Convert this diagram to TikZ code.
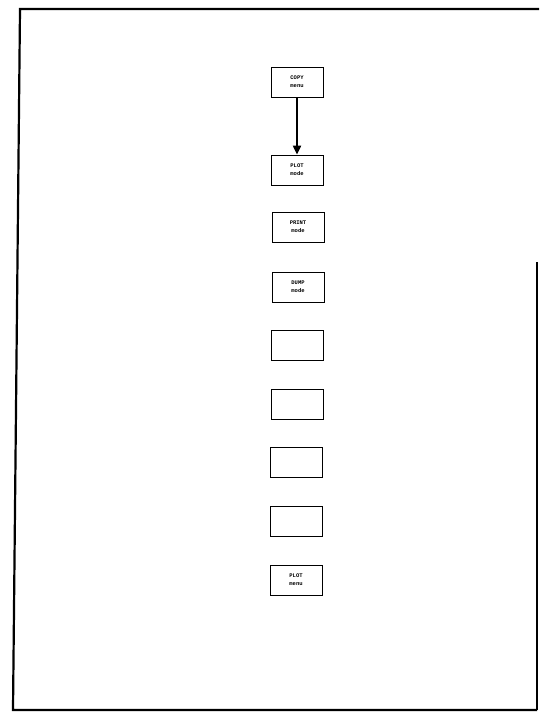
\documentclass[tikz,border=0pt]{standalone}
\usepackage{fontspec}
\setmonofont{Liberation Mono}
\usetikzlibrary{arrows.meta}

\tikzset{
  keybox/.style={draw, line width=0.8pt, minimum width=52pt, minimum height=30pt,
    inner sep=0pt, align=center, font=\ttfamily\bfseries\fontsize{5.5}{8}\selectfont},
}

\begin{document}
\begin{tikzpicture}[x=1pt, y=-1pt, line width=0.9pt]
\useasboundingbox (0,0) rectangle (539,713);

% page frame
\draw[line width=2.2pt] (539,9) -- (20,9) -- (13,710) -- (537,710);
\draw[line width=1.2pt] (537,710) -- (537,262);

% softkey column
\node[keybox] (bCopy)  at (297, 82) {COPY\\menu};
\node[keybox] (bPlot)  at (297,170) {PLOT\\mode};
\node[keybox] (bPrint) at (298,227) {PRINT\\mode};
\node[keybox] (bDump)  at (298,287) {DUMP\\mode};
\node[keybox] (bE1)    at (297,345) {};
\node[keybox] (bE2)    at (297,404) {};
\node[keybox] (bE3)    at (296,462) {};
\node[keybox] (bE4)    at (296,521) {};
\node[keybox] (bPlotM) at (296,580) {PLOT\\menu};

\draw[line width=2pt, -{Triangle[length=9pt,width=8pt]}] (bCopy) -- (bPlot);

\end{tikzpicture}
\end{document}
